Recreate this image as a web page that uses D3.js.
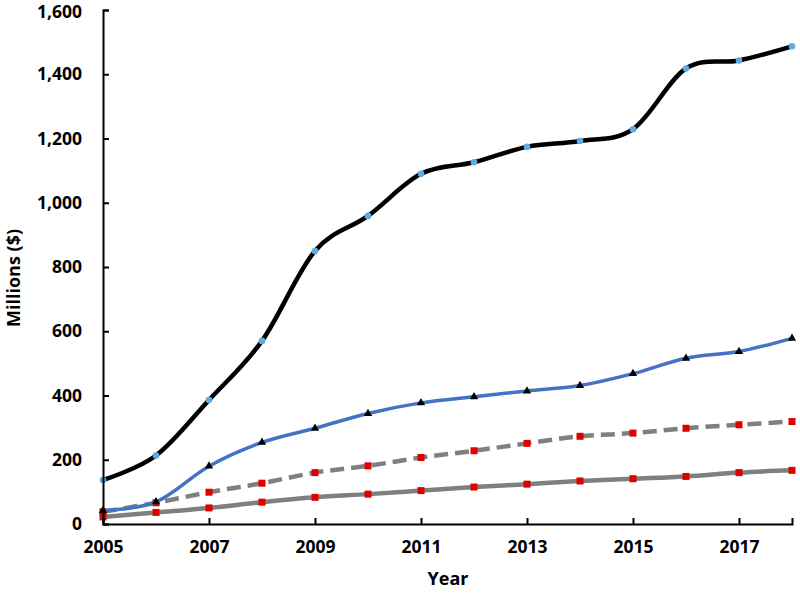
<!DOCTYPE html>
<html>
<head>
<meta charset="utf-8">
<script src="https://cdn.jsdelivr.net/npm/d3@7"></script>
<style>
  body { margin: 0; background: #fff; }
  text { font-family: "Open Sans", sans-serif; font-weight: 700; fill: #000; }
</style>
</head>
<body>
<div id="chart-area"></div>
<script>
// data (millions of $)
var years = [2005, 2006, 2007, 2008, 2009, 2010, 2011, 2012, 2013, 2014, 2015, 2016, 2017, 2018];
var totalValues  = [137, 213, 386, 570, 850, 959, 1090, 1126, 1174, 1192, 1229, 1418, 1443, 1487];
var blueValues   = [42, 69, 180, 254, 298, 344, 377, 396, 414, 431, 468, 516, 537, 578];
var dashedValues = [38, 66, 99, 127, 160, 181, 207, 228, 251, 273, 283, 298, 309, 319];
var solidValues  = [22, 36, 50, 68, 83, 93, 104, 115, 124, 134, 141, 148, 160, 167];
var yTicks = [0, 200, 400, 600, 800, 1000, 1200, 1400, 1600];
var xTicks = [2005, 2007, 2009, 2011, 2013, 2015, 2017];

var W = 800, H = 593;

var svg = d3.select("#chart-area")
    .append("svg")
    .attr("width", W)
    .attr("height", H);

var x = d3.scaleLinear().domain([2005, 2018]).range([103, 792]);
var y = d3.scaleLinear().domain([0, 1600]).range([524, 10]);

// series, drawn bottom to top
var series = [
    { values: solidValues,  color: "#7f7f7f", width: 4.5, dash: null,   marker: "square" },
    { values: dashedValues, color: "#7f7f7f", width: 4.5, dash: "14,7", marker: "square" },
    { values: blueValues,   color: "#4472c4", width: 3.5, dash: null,   marker: "triangle" },
    { values: totalValues,  color: "#000000", width: 4.5, dash: null,   marker: "circle" }
];

var line = d3.line()
    .x(function(d){ return x(d.year); })
    .y(function(d){ return y(d.value); })
    .curve(d3.curveCardinal.tension(0));

series.forEach(function(s){
    var pts = years.map(function(yr, i){ return { year: yr, value: s.values[i] }; });

    svg.append("path")
        .datum(pts)
        .attr("fill", "none")
        .attr("stroke", s.color)
        .attr("stroke-width", s.width)
        .attr("stroke-dasharray", s.dash)
        .attr("d", line);

    var g = svg.append("g");
    if (s.marker === "circle") {
        g.selectAll("circle").data(pts).enter().append("circle")
            .attr("cx", function(d){ return x(d.year); })
            .attr("cy", function(d){ return y(d.value); })
            .attr("r", 3.3)
            .attr("fill", "#5dade2");
    } else if (s.marker === "triangle") {
        g.selectAll("path").data(pts).enter().append("path")
            .attr("transform", function(d){ return "translate(" + x(d.year) + "," + y(d.value) + ")"; })
            .attr("d", d3.symbol().type(d3.symbolTriangle).size(30))
            .attr("fill", "#000");
    } else {
        g.selectAll("rect").data(pts).enter().append("rect")
            .attr("x", function(d){ return x(d.year) - 3.5; })
            .attr("y", function(d){ return y(d.value) - 3.5; })
            .attr("width", 7)
            .attr("height", 7)
            .attr("fill", "#e00000");
    }
});

// axes
var yAxis = d3.axisLeft(y)
    .tickValues(yTicks)
    .tickSize(-6)
    .tickPadding(21)
    .tickFormat(d3.format(","));

var xAxis = d3.axisBottom(x)
    .tickValues(xTicks)
    .tickSize(-6)
    .tickPadding(17)
    .tickFormat(d3.format("d"));

var gy = svg.append("g")
    .attr("transform", "translate(" + 103 + ",0)")
    .call(yAxis);

var gx = svg.append("g")
    .attr("transform", "translate(0," + 524 + ")")
    .call(xAxis);

[gx, gy].forEach(function(a){
    a.select(".domain").attr("stroke", "#000").attr("stroke-width", 2);
    a.selectAll(".tick line").attr("stroke", "#000").attr("stroke-width", 2);
    a.selectAll(".tick text")
        .attr("font-family", "Open Sans, sans-serif")
        .attr("font-weight", 700)
        .attr("font-size", "17.5px")
        .attr("fill", "#000");
});

// keep the top label inside the picture
gy.selectAll(".tick text").filter(function(d){ return d === 1600; }).attr("dy", "0.42em");

svg.append("text")
    .attr("x", 448)
    .attr("y", 585)
    .attr("text-anchor", "middle")
    .attr("font-size", "18px")
    .text("Year");

svg.append("text")
    .attr("transform", "translate(20,278) rotate(-90)")
    .attr("text-anchor", "middle")
    .attr("font-size", "18px")
    .text("Millions ($)");
</script>
</body>
</html>
